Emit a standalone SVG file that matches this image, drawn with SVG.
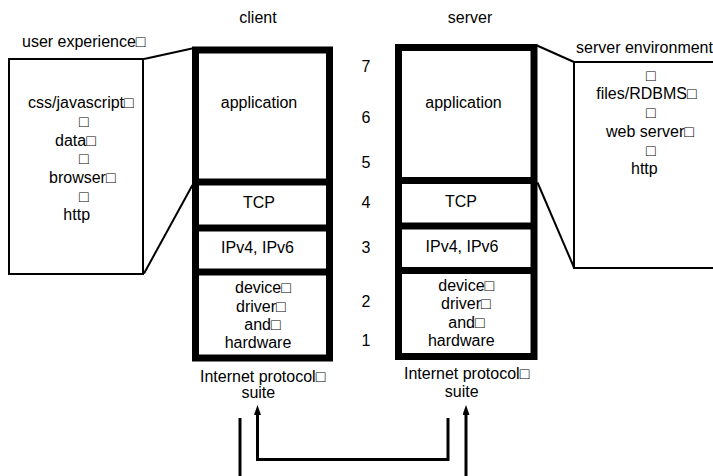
<svg xmlns="http://www.w3.org/2000/svg" width="713" height="476" viewBox="0 0 713 476">
<style>
text{font-family:"Liberation Sans",Arial,"DejaVu Sans",sans-serif;font-size:16px;fill:#000}
.m{text-anchor:middle}
.stack{fill:#fff;stroke:#000;stroke-width:7}
.div{stroke:#000;stroke-width:7}
.box{fill:#fff;stroke:#000;stroke-width:2}
.thin{fill:none;stroke:#000;stroke-width:2}
.conn{fill:none;stroke:#000;stroke-width:3}
</style>
<defs>
<marker id="ah" markerUnits="userSpaceOnUse" markerWidth="11" markerHeight="8" refX="0" refY="3.5" orient="auto">
<path d="M0,0 L10,3.5 L0,7 z" fill="#000"/>
</marker>
</defs>
<rect width="713" height="476" fill="#fff"/>
<text class="m" x="258" y="23">client</text>
<text class="m" x="470" y="23">server</text>
<g id="user-experience">
<text x="22" y="47">user experience□</text>
<rect class="box" x="9" y="59" width="134" height="215"/>
<text x="28" y="108">css/javascript□</text>
<text x="79" y="127">□</text>
<text x="55" y="145.5">data□</text>
<text x="79" y="164">□</text>
<text x="49" y="183">browser□</text>
<text x="79" y="201.5">□</text>
<text class="m" x="76.7" y="220">http</text>
</g>
<g id="server-environment">
<text x="576" y="53">server environment</text>
<rect class="box" x="574" y="62" width="200" height="206"/>
<text x="646" y="81">□</text>
<text x="596.3" y="99">files/RDBMS□</text>
<text x="646" y="118">□</text>
<text x="606" y="137">web server□</text>
<text x="646" y="156">□</text>
<text x="631" y="174">http</text>
</g>
<g id="client-stack">
<rect class="stack" x="195.5" y="50" width="134" height="308"/>
<line class="div" x1="195.5" y1="182" x2="329.5" y2="182"/>
<line class="div" x1="195.5" y1="228" x2="329.5" y2="228"/>
<line class="div" x1="195.5" y1="272" x2="329.5" y2="272"/>
<text class="m" x="259" y="108">application</text>
<text class="m" x="259" y="208">TCP</text>
<text class="m" x="257.5" y="253">IPv4, IPv6</text>
<text x="235" y="293.3">device□</text>
<text x="236" y="311.7">driver□</text>
<text x="244.3" y="330">and□</text>
<text class="m" x="258" y="348.3">hardware</text>
<text x="200" y="381.7">Internet protocol□</text>
<text class="m" x="258.3" y="398.3">suite</text>
</g>
<g id="server-stack">
<rect class="stack" x="398.5" y="47.5" width="135.5" height="309"/>
<line class="div" x1="398.5" y1="180.5" x2="534" y2="180.5"/>
<line class="div" x1="398.5" y1="226" x2="534" y2="226"/>
<line class="div" x1="398.5" y1="270.5" x2="534" y2="270.5"/>
<text class="m" x="463.5" y="108">application</text>
<text class="m" x="461" y="206.7">TCP</text>
<text class="m" x="462" y="251.7">IPv4, IPv6</text>
<text x="438.3" y="291">device□</text>
<text x="441" y="309.3">driver□</text>
<text x="448.3" y="327.7">and□</text>
<text class="m" x="461.3" y="346">hardware</text>
<text x="404" y="379.3">Internet protocol□</text>
<text class="m" x="461.7" y="397.3">suite</text>
</g>
<g id="layers">
<text class="m" x="366" y="72">7</text>
<text class="m" x="366" y="123">6</text>
<text class="m" x="366" y="168">5</text>
<text class="m" x="366" y="208">4</text>
<text class="m" x="366" y="253">3</text>
<text class="m" x="366" y="306.5">2</text>
<text class="m" x="366" y="345.5">1</text>
</g>
<g id="connectors">
<line class="thin" x1="144" y1="59" x2="192" y2="48.5"/>
<line class="thin" x1="144" y1="273.5" x2="192.5" y2="185"/>
<line class="thin" x1="537" y1="45.5" x2="574" y2="62"/>
<line class="thin" x1="537.5" y1="182.5" x2="574" y2="267.5"/>
<line class="conn" x1="240" y1="418" x2="240" y2="480"/>
<path class="conn" d="M448,418 V459.5 H257.5 V415" marker-end="url(#ah)"/>
<path class="conn" d="M466,480 V415" marker-end="url(#ah)"/>
</g>
</svg>
